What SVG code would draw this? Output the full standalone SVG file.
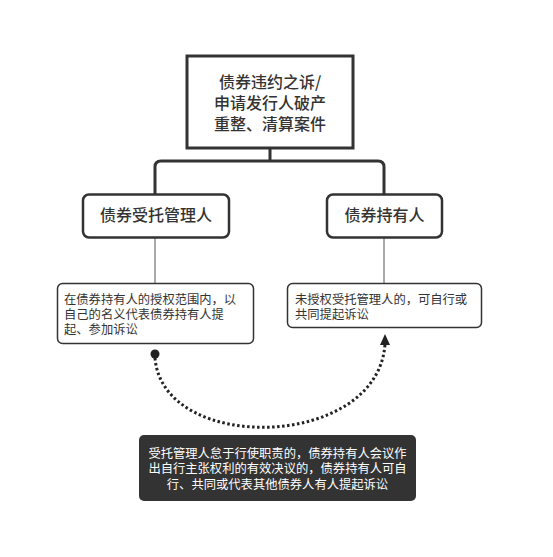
<svg xmlns="http://www.w3.org/2000/svg" width="553" height="557" viewBox="0 0 553 557">
<style>
.t{font-family:"Noto Sans CJK SC","Noto Sans",sans-serif;fill:#333}
.h{font-size:16px;font-weight:500;text-anchor:middle}
.s{font-size:12.3px}
.w{fill:#fff;text-anchor:middle}
.box{fill:#fff;stroke:#333}
.thick{fill:none;stroke:#333;stroke-width:3}
.thin{fill:none;stroke:#555;stroke-width:1}
</style>
<defs>
<marker id="arr" markerWidth="10" markerHeight="10" refX="5" refY="5" orient="auto" markerUnits="userSpaceOnUse">
<path d="M0,0 L10,5 L0,10 Z" fill="#222"/>
</marker>
</defs>
<rect width="553" height="557" fill="#fff"/>
<g id="connectors">
<path class="thick" d="M270,149 V161"/>
<path class="thick" d="M155,194 V167 Q155,161 161,161 H378 Q384,161 384,167 V194"/>
<path class="thin" d="M155,237 V283"/>
<path class="thin" d="M384,237 V283"/>
<circle cx="155" cy="354" r="4.5" fill="#222"/>
<path d="M155,358 C163,455 378,450 385,344" fill="none" stroke="#222" stroke-width="3" stroke-dasharray="2.5 2.5"/>
<path d="M380,345 L385,334 L390,345 Z" fill="#222"/>
</g>
<g id="n-top">
<rect class="box" x="187" y="56" width="166" height="92" stroke-width="3"/>
<text class="t h" x="270" y="88">债券违约之诉/</text>
<text class="t h" x="270" y="109">申请发行人破产</text>
<text class="t h" x="270" y="130">重整、清算案件</text>
</g>
<g id="n-trustee">
<rect class="box" x="83" y="194.5" width="146" height="43" rx="6" stroke-width="2.5"/>
<text class="t h" x="156" y="221">债券受托管理人</text>
</g>
<g id="n-holder">
<rect class="box" x="327" y="194.5" width="115" height="43" rx="6" stroke-width="2.5"/>
<text class="t h" x="384.5" y="221">债券持有人</text>
</g>
<g id="n-trustee-desc">
<rect class="box" x="57.5" y="283.5" width="196" height="60" rx="5" stroke-width="1.5"/>
<text class="t s" x="64" y="303.5">在债券持有人的授权范围内，以</text>
<text class="t s" x="64" y="318.5">自己的名义代表债券持有人提</text>
<text class="t s" x="64" y="333.5">起、参加诉讼</text>
</g>
<g id="n-holder-desc">
<rect class="box" x="287.5" y="283.5" width="194" height="44" rx="5" stroke-width="1.5"/>
<text class="t s" x="295" y="303.5">未授权受托管理人的，可自行或</text>
<text class="t s" x="295" y="318.5">共同提起诉讼</text>
</g>
<g id="n-note">
<rect x="139" y="435" width="277" height="66" rx="5" fill="#333"/>
<text class="t s w" x="277.5" y="457.5">受托管理人怠于行使职责的，债券持有人会议作</text>
<text class="t s w" x="277.5" y="473">出自行主张权利的有效决议的，债券持有人可自</text>
<text class="t s w" x="277.5" y="488.5">行、共同或代表其他债券人有人提起诉讼</text>
</g>
</svg>
